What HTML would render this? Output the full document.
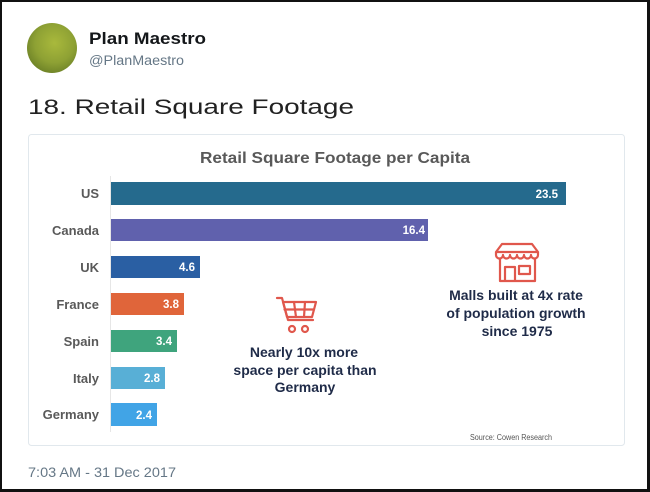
<!DOCTYPE html>
<html><head><meta charset="utf-8"><style>
html,body{margin:0;padding:0;background:#fff;}
svg{display:block;}
</style></head><body>
<svg width="650" height="492" viewBox="0 0 650 492" xmlns="http://www.w3.org/2000/svg" font-family="Liberation Sans, Arial, sans-serif">
<defs>
<radialGradient id="av" cx="0.55" cy="0.4" r="0.65">
<stop offset="0" stop-color="#a9b93c"/>
<stop offset="0.6" stop-color="#8ea134"/>
<stop offset="1" stop-color="#6a7f26"/>
</radialGradient>
</defs>
<rect x="0" y="0" width="650" height="492" fill="#fff"/>
<!-- frame -->
<rect x="0" y="0" width="650" height="2" fill="#111"/>
<rect x="0" y="489" width="650" height="3" fill="#111"/>
<rect x="0" y="0" width="2" height="492" fill="#111"/>
<rect x="647" y="0" width="3" height="492" fill="#111"/>

<!-- header -->
<circle cx="52" cy="48" r="25" fill="url(#av)"/>
<text x="89" y="44" font-size="17" font-weight="bold" fill="#14171a" textLength="117" lengthAdjust="spacingAndGlyphs">Plan Maestro</text>
<text x="89" y="65" font-size="13.5" fill="#657786" textLength="95" lengthAdjust="spacingAndGlyphs">@PlanMaestro</text>
<text x="28" y="114" font-size="21.5" fill="#222" textLength="326" lengthAdjust="spacingAndGlyphs">18. Retail Square Footage</text>

<!-- card -->
<rect x="28.5" y="134.5" width="596" height="311" rx="3" fill="#fff" stroke="#e1e8ed"/>
<text x="335" y="163" text-anchor="middle" font-size="16" font-weight="bold" fill="#595959" textLength="270" lengthAdjust="spacingAndGlyphs">Retail Square Footage per Capita</text>

<line x1="110.5" y1="176" x2="110.5" y2="432" stroke="#e6e6e6"/>

<!-- bars -->
<g font-size="13" font-weight="bold" fill="#595959" text-anchor="end">
<text x="99" y="198">US</text>
<text x="99" y="235">Canada</text>
<text x="99" y="272">UK</text>
<text x="99" y="309">France</text>
<text x="99" y="346">Spain</text>
<text x="99" y="383">Italy</text>
<text x="99" y="419">Germany</text>
</g>
<rect x="111" y="182" width="455" height="23" fill="#256a8d"/>
<rect x="111" y="219" width="317" height="22" fill="#6061ad"/>
<rect x="111" y="256" width="89" height="22" fill="#2a5fa3"/>
<rect x="111" y="293" width="73" height="22" fill="#e0653a"/>
<rect x="111" y="330" width="66" height="22" fill="#3fa47d"/>
<rect x="111" y="367" width="54" height="22" fill="#58afd6"/>
<rect x="111" y="403" width="46" height="23" fill="#41a4e6"/>
<g font-size="11.5" font-weight="bold" fill="#fff" text-anchor="end">
<text x="558" y="198">23.5</text>
<text x="425" y="234">16.4</text>
<text x="195" y="271">4.6</text>
<text x="179" y="308">3.8</text>
<text x="172" y="345">3.4</text>
<text x="160" y="382">2.8</text>
<text x="152" y="419">2.4</text>
</g>

<!-- cart icon -->
<g fill="none" stroke="#e0574c" stroke-width="2.2" stroke-linejoin="round" stroke-linecap="round">
<path d="M277 298 H282 L288 320 H313"/>
<path d="M283 302 H316 L312 317 H287 Z"/>
<line x1="284.5" y1="309.5" x2="314" y2="309.5"/>
<line x1="294" y1="302" x2="296" y2="317"/>
<line x1="305" y1="302" x2="304" y2="317"/>
<circle cx="292" cy="329" r="3"/>
<circle cx="305" cy="329" r="3"/>
</g>
<g font-size="14" font-weight="bold" fill="#1f2b48" text-anchor="middle">
<text x="304" y="357">Nearly 10x more</text>
<text x="305" y="375">space per capita than</text>
<text x="305" y="392">Germany</text>
</g>

<!-- store icon -->
<g fill="none" stroke="#e0574c" stroke-width="2.2" stroke-linejoin="round">
<path d="M502 244 H532 L538 252 H496 Z"/>
<path d="M496 252 V255 A3.5 3.5 0 0 0 503 255 A3.5 3.5 0 0 0 510 255 A3.5 3.5 0 0 0 517 255 A3.5 3.5 0 0 0 524 255 A3.5 3.5 0 0 0 531 255 A3.5 3.5 0 0 0 538 255 V252"/>
<path d="M500 259 V281 H535 V259"/>
<path d="M505 281 V267 H515 V281"/>
<rect x="519" y="266" width="11" height="8"/>
</g>
<g font-size="14" font-weight="bold" fill="#1f2b48" text-anchor="middle">
<text x="516" y="300">Malls built at 4x rate</text>
<text x="516" y="318">of population growth</text>
<text x="517" y="336">since 1975</text>
</g>

<text x="470" y="440" font-size="8" fill="#555" textLength="82" lengthAdjust="spacingAndGlyphs">Source: Cowen Research</text>

<!-- timestamp -->
<text x="28" y="477" font-size="14" fill="#657786" textLength="148" lengthAdjust="spacingAndGlyphs">7:03 AM - 31 Dec 2017</text>
</svg>
</body></html>
